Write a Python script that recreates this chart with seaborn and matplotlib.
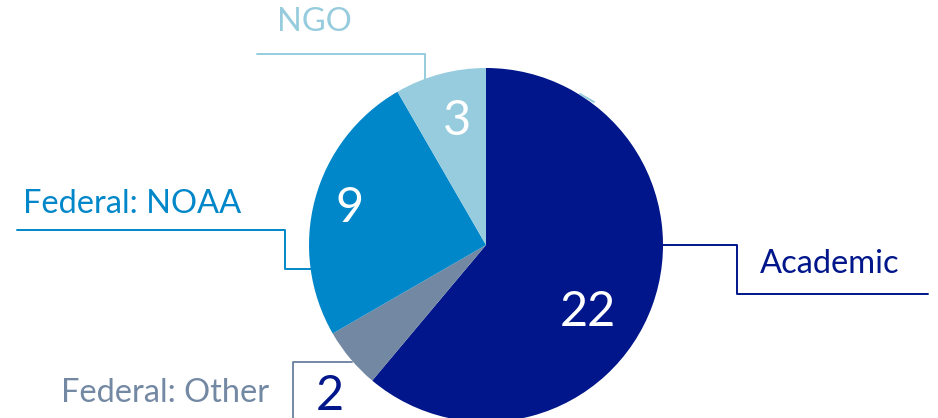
import matplotlib
matplotlib.use("Agg")
import matplotlib.pyplot as plt
import seaborn as sns

# data
categories = ["Academic", "Federal: Other", "Federal: NOAA", "NGO"]
counts = [22, 2, 9, 3]
colors = ["#00168A", "#7388A3", "#0087C9", "#96CCDD"]

sns.set_theme(style="white")
plt.rcParams["font.family"] = ["Lato", "DejaVu Sans"]

W, H = 938, 418
fig = plt.figure(figsize=(W / 100, H / 100), dpi=100)
ax = fig.add_axes([0, 0, 1, 1])


def py(y):
    # picture y (top-down) -> axes y
    return H - y


palette = sns.color_palette(colors)
ax.pie(counts, colors=palette, startangle=90, counterclock=False,
       center=(486, py(245)), radius=177, frame=True,
       wedgeprops={"linewidth": 0})
ax.set_xlim(0, W)
ax.set_ylim(0, H)
ax.set_aspect("equal")
ax.axis("off")

# layout for labels and leader lines (picture pixel coords)
label_pos = {
    "Academic": (830, 264),
    "Federal: Other": (165, 393),
    "Federal: NOAA": (132, 204),
    "NGO": (314, 22),
}
value_pos = {
    "Academic": (588, 312),
    "Federal: Other": (330, 396),
    "Federal: NOAA": (350, 208),
    "NGO": (457, 121),
}
value_color = {
    "Academic": "white",
    "Federal: Other": "#00168A",
    "Federal: NOAA": "white",
    "NGO": "white",
}
leaders = {
    "Academic": [(663, 245), (737, 245), (737, 294), (928, 294)],
    "Federal: Other": [(293, 420), (293, 362), (352, 362)],
    "Federal: NOAA": [(17, 230), (285, 230), (285, 269), (311, 269)],
    "NGO": [(257, 54), (425, 54), (425, 80)],
}

for cat, n, col in zip(categories, counts, colors):
    lx, ly = label_pos[cat]
    ax.text(lx, py(ly), cat, color=col, fontsize=23.5, ha="center", va="center")
    vx, vy = value_pos[cat]
    ax.text(vx, py(vy), str(n), color=value_color[cat], fontsize=35,
            ha="center", va="center")
    pts = leaders[cat]
    ax.plot([p[0] for p in pts], [py(p[1]) for p in pts], color=col,
            linewidth=1.4, clip_on=False)

# small stray leader stub near the top of the pie
ax.plot([580, 594], [py(94), py(102)], color=colors[3], linewidth=1.4)

fig.savefig("out.png", dpi=100)
